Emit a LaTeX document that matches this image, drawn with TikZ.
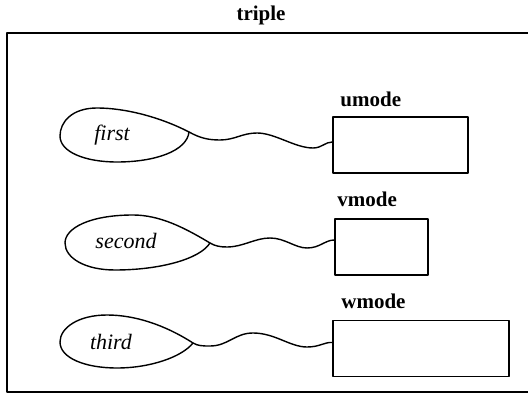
\documentclass[tikz,border=0pt]{standalone}
\usepackage{fontspec}
\setmainfont{Liberation Serif}
\usetikzlibrary{positioning}
\begin{document}
\begin{tikzpicture}[x=0.5pt, y=-0.5pt, line join=round, line cap=round,
    modebox/.style={draw, line width=0.7pt, minimum height=28pt, inner sep=0pt},
    modelabel/.style={anchor=base west, inner sep=0pt, font=\fontsize{10.5}{12}\selectfont\bfseries},
    fieldtext/.style={inner sep=0pt, font=\fontsize{11}{13}\selectfont\itshape},
    blob/.style={draw, line width=0.7pt},
    squiggle/.style={draw, line width=0.7pt}]
  \path[use as bounding box, clip] (0,0) rectangle (528,394);
  % outer frame and its title
  \node[modelabel, anchor=base] (title) at (261,21) {triple};
  \draw[line width=1pt] (6.5,33) rectangle (545,392);
  % the three mode boxes
  \foreach \name/\bx/\by/\bw/\lx/\ly in {umode/400.5/145/67.5pt/340/107, vmode/381.5/247/46.5pt/337/207, wmode/421/348.5/88pt/341/308} {
    \node[modebox, minimum width=\bw] (\name) at (\bx,\by) {};
    \node[modelabel] (\name label) at (\lx,\ly) {\name};
  }
  % the three fields
  \node[fieldtext] (first) at (112,135.5) {first};
  \node[fieldtext] (second) at (126,241) {second};
  \node[fieldtext] (third) at (111,341.5) {third};
  \coordinate (first tip) at (189,132);
  \coordinate (second tip) at (210,243);
  \coordinate (third tip) at (193,343);
  \draw[blob] (first tip) .. controls (160,117) and (125,108) .. (97,108)
    .. controls (72,108) and (60,122) .. (60,136)
    .. controls (60,152) and (85,162) .. (117,162)
    .. controls (155,162) and (187,151) .. (first tip);
  \draw[blob] (second tip) .. controls (185,228) and (160,215) .. (133,215)
    .. controls (90,215) and (65,228) .. (65,243)
    .. controls (65,258) and (85,270) .. (115,270)
    .. controls (160,270) and (200,259) .. (second tip);
  \draw[blob] (third tip) .. controls (165,325) and (135,315) .. (107,315)
    .. controls (78,315) and (60,328) .. (60,342)
    .. controls (60,358) and (85,368) .. (117,368)
    .. controls (150,368) and (182,357) .. (third tip);
  % links from fields to modes
  \draw[squiggle] (first tip) .. controls (200,138) and (208,140) .. (220,140)
    .. controls (235,140) and (242,133) .. (257,133)
    .. controls (275,133) and (295,148) .. (313,148)
    .. controls (322,148) and (325,142) .. ([yshift=1.5pt]umode.west);
  \draw[squiggle] (second tip) .. controls (215,246) and (220,247) .. (227,247)
    .. controls (243,247) and (255,238) .. (270,238)
    .. controls (285,238) and (295,248) .. (307,248)
    .. controls (320,248) and (325,240) .. ([yshift=3.5pt]vmode.west);
  \draw[squiggle] (third tip) .. controls (198,346) and (203,346) .. (210,346)
    .. controls (228,346) and (235,333) .. (253,333)
    .. controls (275,333) and (290,347) .. (307,347)
    .. controls (320,347) and (324,342) .. ([yshift=3pt]wmode.west);
\end{tikzpicture}
\end{document}
